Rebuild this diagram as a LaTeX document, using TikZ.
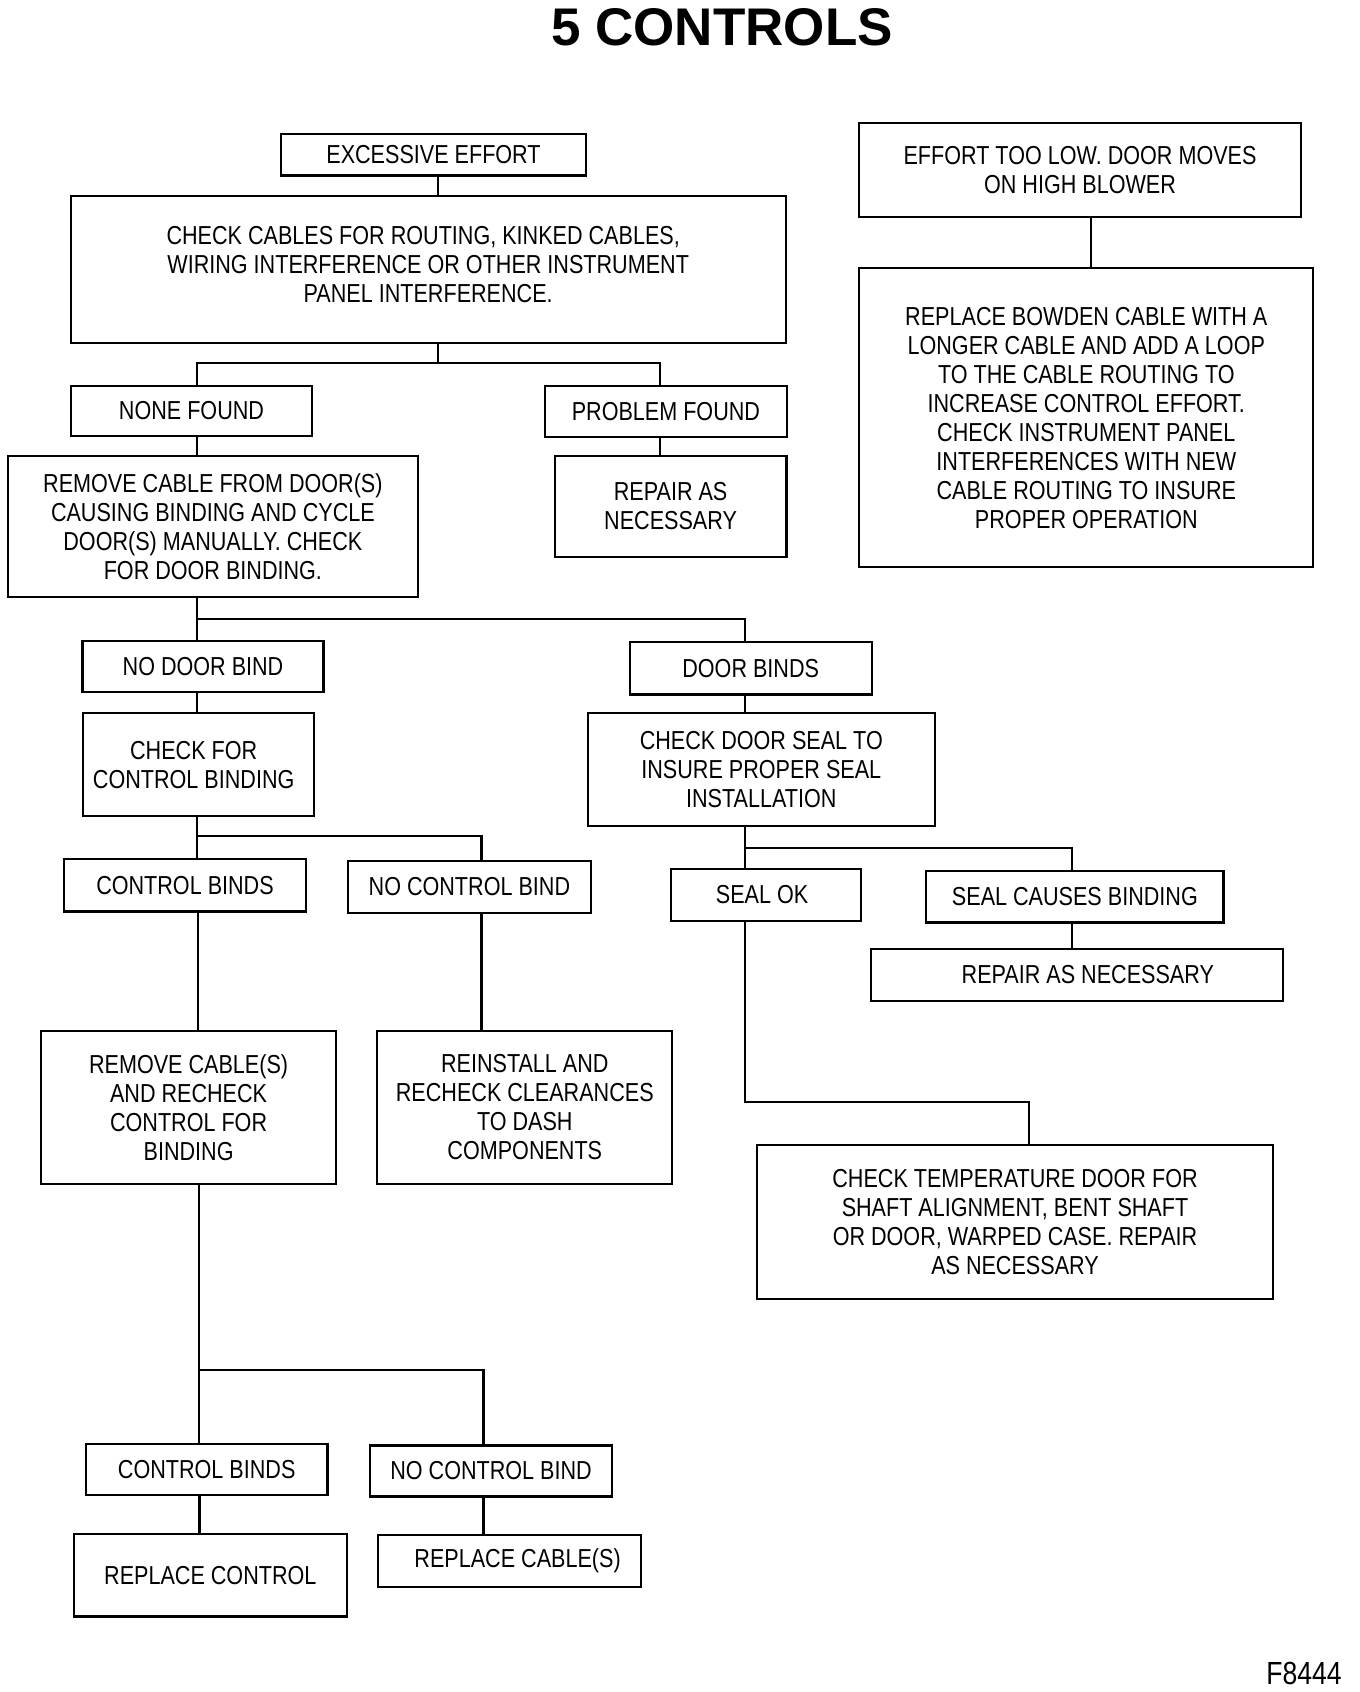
\documentclass[tikz,border=0pt]{standalone}
\usepackage{fontspec}
\setmainfont{Liberation Sans}[FakeStretch=0.83]
\newfontfamily\titlefont{Liberation Sans}
\begin{document}
\begin{tikzpicture}[x=1pt,y=-1pt,
  box/.style={draw, line width=2.2pt, inner sep=0pt, align=center,
    font=\fontsize{26}{29}\selectfont},
  conn/.style={line width=2.2pt}]
\useasboundingbox (0,0) rectangle (1360,1692);

% title and figure number
\node[font=\titlefont\bfseries\fontsize{53}{60}\selectfont, inner sep=0pt] (title) at (722,27) {5 CONTROLS};
\node[font=\fontsize{32}{36}\selectfont, inner sep=0pt] (fig) at (1304,1673.5) {F8444};

% top left tree
\node[box, minimum width=305pt, minimum height=41.5pt] (ee) at (433.5,154.8) {EXCESSIVE EFFORT};
\node[box, minimum width=715pt, minimum height=147pt] (cc) at (428.2,269.2)
  {CHECK CABLES FOR ROUTING, KINKED CABLES,\hspace*{10pt}\\WIRING INTERFERENCE OR OTHER INSTRUMENT\hspace*{10pt}\\PANEL INTERFERENCE.\hspace*{10pt}\\[-19pt]\mbox{}};
\node[box, minimum width=241.6pt, minimum height=50.3pt] (nf) at (191.5,410.9) {NONE FOUND};
\node[box, minimum width=241.7pt, minimum height=51pt] (pf) at (665.9,411.2) {PROBLEM FOUND};
\node[box, minimum width=409.7pt, minimum height=141pt] (rc) at (212.9,526.5)
  {REMOVE CABLE FROM DOOR(S)\\CAUSING BINDING AND CYCLE\\DOOR(S) MANUALLY. CHECK\\FOR DOOR BINDING.};
\node[box, minimum width=231.8pt, minimum height=101.3pt] (ra1) at (670.6,506.4) {REPAIR AS\\NECESSARY};

% top right
\node[box, minimum width=442pt, minimum height=94pt] (et) at (1080,169.7)
  {EFFORT TOO LOW. DOOR MOVES\\ON HIGH BLOWER};
\node[box, minimum width=454pt, minimum height=299pt] (rb) at (1086.3,417.8)
  {REPLACE BOWDEN CABLE WITH A\\LONGER CABLE AND ADD A LOOP\\TO THE CABLE ROUTING TO\\INCREASE CONTROL EFFORT.\\CHECK INSTRUMENT PANEL\\INTERFERENCES WITH NEW\\CABLE ROUTING TO INSURE\\PROPER OPERATION};

% middle
\node[box, minimum width=241pt, minimum height=51pt] (ndb) at (203,666.5) {NO DOOR BIND};
\node[box, minimum width=242pt, minimum height=52.5pt] (db) at (750.7,668.3) {DOOR BINDS};
\node[box, minimum width=230.7pt, minimum height=103.3pt] (cfb) at (198.7,764.7)
  {CHECK FOR\hspace*{10pt}\\CONTROL BINDING\hspace*{10pt}};
\node[box, minimum width=347.4pt, minimum height=113.3pt] (cds) at (761.3,769.4)
  {CHECK DOOR SEAL TO\\INSURE PROPER SEAL\\INSTALLATION};
\node[box, minimum width=241.5pt, minimum height=52.3pt] (cb1) at (185,885.4) {CONTROL BINDS};
\node[box, minimum width=242.4pt, minimum height=51.3pt] (ncb1) at (469.4,887) {NO CONTROL BIND};
\node[box, minimum width=190.4pt, minimum height=52pt] (sok) at (766.1,895) {SEAL OK\hspace*{8pt}};
\node[box, minimum width=297.1pt, minimum height=51.6pt] (scb) at (1074.9,896.6) {SEAL CAUSES BINDING};
\node[box, minimum width=412pt, minimum height=52pt] (ra2) at (1076.8,975) {\hspace*{22pt}REPAIR AS NECESSARY};
\node[box, minimum width=294.8pt, minimum height=153.1pt] (rcs) at (188.6,1107.3)
  {REMOVE CABLE(S)\\AND RECHECK\\CONTROL FOR\\BINDING};
\node[box, minimum width=294.9pt, minimum height=153.1pt] (rei) at (524.8,1107.3)
  {REINSTALL AND\\RECHECK CLEARANCES\\TO DASH\\COMPONENTS};
\node[box, minimum width=516.4pt, minimum height=154pt] (ctd) at (1015,1222.3)
  {CHECK TEMPERATURE DOOR FOR\\SHAFT ALIGNMENT, BENT SHAFT\\OR DOOR, WARPED CASE. REPAIR\\AS NECESSARY};

% bottom
\node[box, minimum width=241.5pt, minimum height=51pt] (cb2) at (206.7,1469.8) {CONTROL BINDS};
\node[box, minimum width=242.4pt, minimum height=51pt] (ncb2) at (491.1,1470.9) {NO CONTROL BIND};
\node[box, minimum width=273.2pt, minimum height=82.3pt] (rcon) at (210.3,1575.3) {REPLACE CONTROL};
\node[box, minimum width=262.9pt, minimum height=52.1pt] (rcab) at (509.6,1561) {\hspace*{16pt}REPLACE CABLE(S)};

% connectors
\coordinate (xa) at (437.7,0);
\coordinate (s1) at (437.7,363.3);
\coordinate (s1l) at (196.7,363.3);
\coordinate (s1r) at (660,363.3);
\draw[conn] (xa |- ee.south) -- (xa |- cc.north);
\draw[conn] (xa |- cc.south) -- (s1);
\draw[conn] (s1l |- nf.north) -- (s1l) -- (s1r) -- (s1r |- pf.north);
\draw[conn] (s1l |- nf.south) -- (s1l |- rc.north);
\draw[conn] (s1r |- pf.south) -- (s1r |- ra1.north);

\coordinate (xr) at (1091,0);
\draw[conn] (xr |- et.south) -- (xr |- rb.north);

\coordinate (s2l) at (197.3,619.2);
\coordinate (s2r) at (745,619.2);
\draw[conn] (s2l |- rc.south) -- (s2l |- ndb.north);
\draw[conn] (s2l) -- (s2r) -- (s2r |- db.north);
\draw[conn] (s2l |- ndb.south) -- (s2l |- cfb.north);
\draw[conn] (s2r |- db.south) -- (s2r |- cds.north);

\coordinate (s3l) at (197.3,836.3);
\coordinate (s3r) at (481.4,836.3);
\draw[conn] (s3l |- cfb.south) -- (s3l |- cb1.north);
\draw[conn] (s3l) -- (s3r) -- (s3r |- ncb1.north);
\coordinate (xcb) at (198,0);
\draw[conn] (xcb |- cb1.south) -- (xcb |- rcs.north);
\draw[conn] (s3r |- ncb1.south) -- (s3r |- rei.north);

\coordinate (s4l) at (745,848.2);
\coordinate (s4r) at (1071.6,848.2);
\draw[conn] (s4l |- cds.south) -- (s4l |- sok.north);
\draw[conn] (s4l) -- (s4r) -- (s4r |- scb.north);
\draw[conn] (s4r |- scb.south) -- (s4r |- ra2.north);

\coordinate (s5a) at (745,1101.6);
\coordinate (s5b) at (1029,1101.6);
\draw[conn] (s5a |- sok.south) -- (s5a) -- (s5b) -- (s5b |- ctd.north);

\coordinate (s6l) at (198.6,1370);
\coordinate (s6r) at (483.5,1370);
\draw[conn] (s6l |- rcs.south) -- (s6l |- cb2.north);
\draw[conn] (s6l) -- (s6r) -- (s6r |- ncb2.north);
\coordinate (xb) at (199.5,0);
\draw[conn] (xb |- cb2.south) -- (xb |- rcon.north);
\draw[conn] (s6r |- ncb2.south) -- (s6r |- rcab.north);
\end{tikzpicture}
\end{document}
